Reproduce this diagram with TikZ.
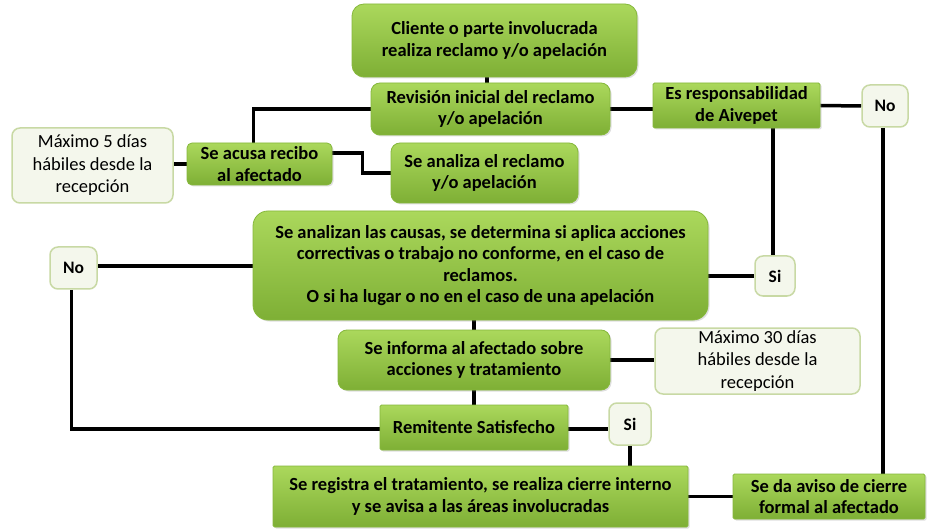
\documentclass[tikz,border=0pt]{standalone}
\usepackage{fontspec}
\setmainfont{Carlito}
\usetikzlibrary{shadows,backgrounds}
\definecolor{gtop}{HTML}{ABD85C}
\definecolor{gbot}{HTML}{7EAF35}
\definecolor{gline}{HTML}{86B83C}
\definecolor{lfill}{HTML}{F4F7EC}
\definecolor{lline}{HTML}{C8D9A4}
\tikzset{
  gbox/.style={draw=gline, line width=0.8pt, top color=gtop, bottom color=gbot,
    align=center, inner sep=1pt, font=\bfseries\fontsize{18.5}{21.5}\selectfont,
    drop shadow={shadow xshift=1.5pt, shadow yshift=-1.5pt, opacity=0.25}},
  rbox/.style={gbox, rounded corners=9pt},
  sbox/.style={gbox, rounded corners=1.5pt},
  lbox/.style={draw=lline, line width=1.5pt, fill=lfill, rounded corners=8pt,
    align=center, inner sep=1pt, font=\fontsize{18.5}{22.5}\selectfont},
  lsmall/.style={draw=lline, line width=1.5pt, fill=lfill, rounded corners=8pt,
    align=center, inner sep=1pt, font=\bfseries\fontsize{17.5}{20}\selectfont},
  conn/.style={line width=3.5pt, black}
}
\begin{document}
\begin{tikzpicture}[x=1pt,y=1pt]
\useasboundingbox (0,0) rectangle (934,-529);
% green boxes
\node[rbox, minimum width=285, minimum height=73, rounded corners=12pt] (cliente) at (494.5,-40.5) {Cliente o parte involucrada\\realiza reclamo y/o apelación};
\node[rbox, minimum width=239, minimum height=52] (revision) at (490.5,-109) {Revisión inicial del reclamo\\y/o apelación};
\node[rbox, minimum width=187, minimum height=60] (analiza) at (484.5,-173) {Se analiza el reclamo\\y/o apelación};
\node[rbox, minimum width=145, minimum height=42, rounded corners=5pt] (acusa) at (259.5,-164) {Se acusa recibo\\al afectado};
\node[sbox, minimum width=167, minimum height=45] (resp) at (736.5,-105.5) {Es responsabilidad\\de Aivepet};
\node[rbox, minimum width=455, minimum height=109, rounded corners=15pt] (causas) at (480.5,-265.5) {Se analizan las causas, se determina si aplica acciones\\correctivas o trabajo no conforme, en el caso de\\reclamos.\\O si ha lugar o no en el caso de una apelación};
\node[rbox, minimum width=272, minimum height=60] (informa) at (474,-360) {Se informa al afectado sobre\\acciones y tratamiento};
\node[sbox, minimum width=188, minimum height=45] (remitente) at (474,-427.5) {Remitente Satisfecho};
\node[sbox, minimum width=415, minimum height=61] (registra) at (480.5,-496.5) {Se registra el tratamiento, se realiza cierre interno\\y se avisa a las áreas involucradas};
\node[sbox, minimum width=192, minimum height=45] (aviso) at (829,-496.5) {Se da aviso de cierre\\formal al afectado};
% light boxes
\node[lbox, minimum width=161, minimum height=75] (max5) at (92.5,-165.5) {Máximo 5 días\\hábiles desde la\\recepción};
\node[lbox, minimum width=205, minimum height=66] (max30) at (757.5,-361) {Máximo 30 días\\hábiles desde la\\recepción};
\node[lsmall, minimum width=46, minimum height=42] (no1) at (885,-106) {No};
\node[lsmall, minimum width=47, minimum height=42] (no2) at (73.5,-268) {No};
\node[lsmall, minimum width=40, minimum height=40] (si1) at (775,-276) {Si};
\node[lsmall, minimum width=42, minimum height=42] (si2) at (630,-424) {Si};
% connectors
\begin{scope}[on background layer]
\fill[white] (0,0) rectangle (934,-529);
\draw[conn] ([xshift=-3.5]revision.north |- cliente.south) -- ([xshift=-3.5]revision.north);
\draw[conn] (revision.west) -| ([xshift=-6]acusa.north);
\draw[conn] ([yshift=11]acusa.east) -- ++(30,0) |- (analiza.west);
\draw[conn] (acusa.west) -- (acusa.west -| max5.east);
\draw[conn] (revision.east) -- (revision.east -| resp.west);
\draw[conn] (resp.east) -- (no1.west);
\draw[conn] ([xshift=-2]si1.north |- resp.south) -- ([xshift=-2]si1.north);
\draw[conn] ([xshift=-2]no1.south) -- ([xshift=-2]no1.south |- aviso.north);
\draw[conn] ([yshift=2]no2.east) -- ([yshift=2]no2.east -| causas.west);
\draw[conn] (si1.west) -- (si1.west -| causas.east);
\draw[conn] (informa.north |- causas.south) -- (informa.north);
\draw[conn] (informa.east) -- (informa.east -| max30.west);
\draw[conn] (informa.south) -- (remitente.north);
\draw[conn] ([xshift=-2]no2.south) |- ([yshift=-1.5]remitente.west);
\draw[conn] ([yshift=-1.5]remitente.east) -- ([yshift=-1.5]remitente.east -| si2.west);
\draw[conn] (si2.south) -- (si2.south |- registra.north);
\draw[conn] (registra.east) -- (aviso.west);
\end{scope}
\end{tikzpicture}
\end{document}
